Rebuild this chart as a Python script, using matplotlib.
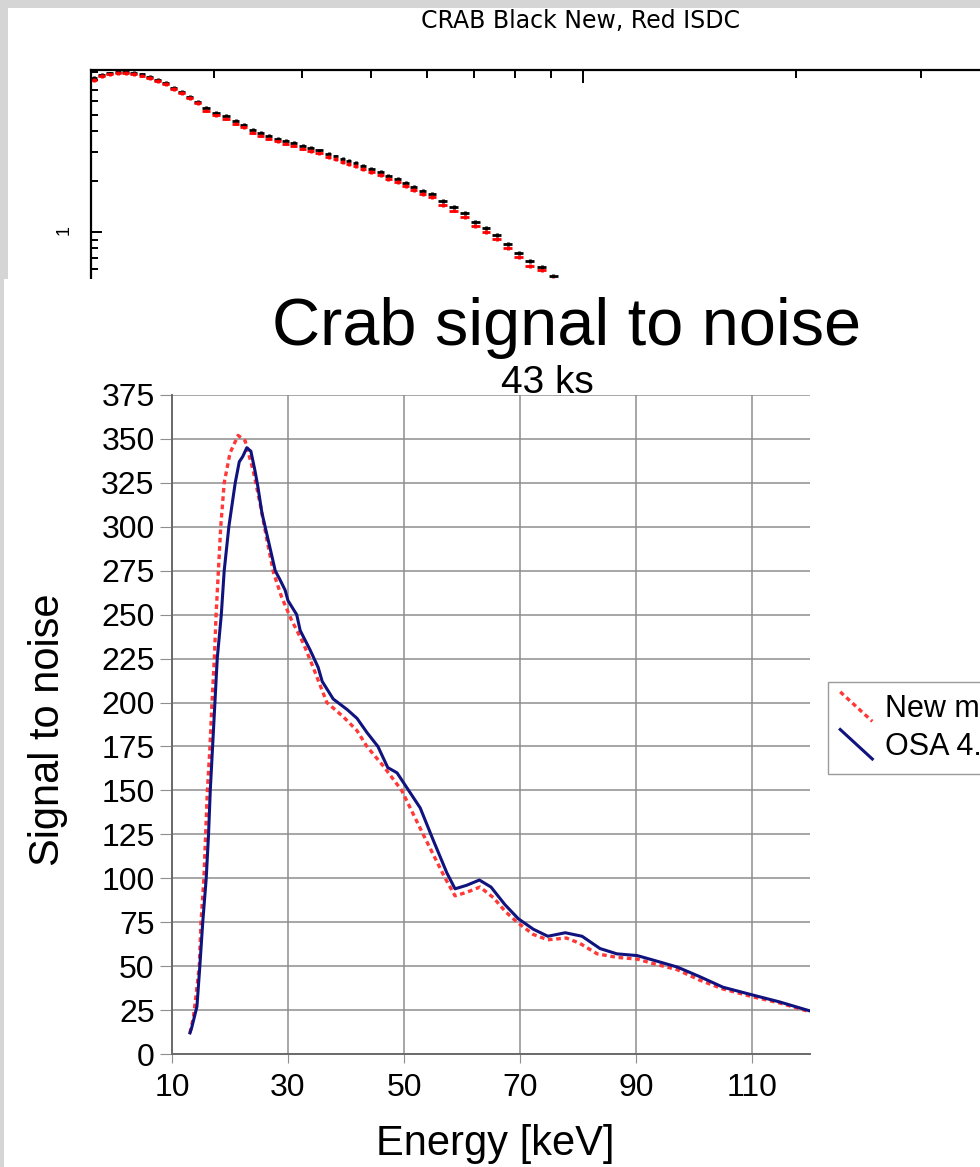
import numpy as np
import matplotlib
matplotlib.use("Agg")
import matplotlib.pyplot as plt
from matplotlib.patches import Rectangle
from matplotlib.lines import Line2D
from matplotlib.legend_handler import HandlerBase
from matplotlib.ticker import NullFormatter

# --- spectrum panel (counts vs energy, log-log) ---
spec_energy = [2.027, 2.081, 2.136, 2.193, 2.250, 2.310, 2.371, 2.433, 2.497, 2.563,
               2.631, 2.700, 2.772, 2.844, 2.920, 3.017, 3.116, 3.220, 3.304, 3.402,
               3.492, 3.584, 3.691, 3.788, 3.889, 4.004, 4.111, 4.220, 4.359, 4.460,
               4.563, 4.653, 4.760, 4.870, 5.012, 5.162, 5.298, 5.456, 5.600, 5.748,
               5.919, 6.095, 6.318, 6.548, 6.787, 7.034, 7.268, 7.534, 7.808, 8.093,
               8.388, 8.723, 9.069]
spec_new = [8.25, 8.60, 8.78, 8.96, 8.96, 8.84, 8.66, 8.37, 8.03, 7.71,
            7.20, 6.81, 6.36, 5.94, 5.47, 5.11, 4.90, 4.58, 4.34, 4.05,
            3.88, 3.73, 3.58, 3.48, 3.39, 3.27, 3.16, 3.06, 2.91, 2.82,
            2.72, 2.65, 2.58, 2.47, 2.37, 2.28, 2.15, 2.07, 1.96, 1.85,
            1.75, 1.68, 1.53, 1.41, 1.30, 1.15, 1.06, 0.96, 0.85, 0.75,
            0.67, 0.62, 0.55]
spec_isdc = [8.03, 8.48, 8.66, 8.84, 8.84, 8.72, 8.54, 8.25, 7.92, 7.60,
             7.10, 6.72, 6.27, 5.86, 5.28, 4.94, 4.73, 4.42, 4.19, 3.91,
             3.75, 3.60, 3.46, 3.36, 3.27, 3.14, 3.03, 2.94, 2.79, 2.71,
             2.61, 2.54, 2.48, 2.37, 2.28, 2.19, 2.06, 1.99, 1.88, 1.78,
             1.68, 1.61, 1.45, 1.34, 1.23, 1.09, 1.00, 0.91, 0.80, 0.71,
             0.63, 0.59, 0.52]

# --- signal to noise panel ---
new_energy = [13.1, 13.7, 14.2, 14.7, 15.0, 15.5, 15.8, 16.1, 16.5, 16.9,
              17.3, 17.6, 18.0, 18.4, 19.0, 20.0, 21.4, 22.6, 24.0, 25.2,
              26.4, 27.5, 28.9, 30.6, 32.6, 34.1, 36.7, 39.5, 41.9, 43.6,
              46.4, 49.6, 53.3, 57.1, 58.8, 60.8, 63.1, 65.4, 67.5, 69.5,
              72.3, 74.8, 78.0, 80.3, 83.3, 86.7, 90.2, 92.9, 97.1, 101.0,
              105.0, 110.2, 114.8, 120.0]
new_snr = [12, 21, 35, 50, 75, 100, 125, 150, 172, 200,
           225, 250, 275, 300, 325, 342, 352, 349, 332, 313,
           292, 274, 260, 247, 234, 222, 200, 192, 184, 175,
           164, 150, 125, 100, 90, 92, 95, 89, 81, 75,
           68, 65, 66, 63, 57, 55, 54, 51.5, 48, 42,
           37, 32.5, 29, 24]

osa_energy = [13.1, 13.4, 14.3, 14.8, 15.3, 15.9, 16.3, 16.6, 17.0, 17.4,
              17.8, 18.5, 19.0, 19.8, 20.9, 21.6, 22.2, 22.9, 23.6, 24.3,
              24.8, 25.5, 26.9, 27.8, 28.6, 29.5, 30.0, 31.5, 32.1, 33.8,
              35.2, 35.9, 37.8, 40.2, 41.9, 43.6, 45.5, 47.2, 48.8, 51.0,
              52.8, 55.0, 57.4, 58.8, 60.8, 63.0, 65.0, 67.4, 69.7, 72.3,
              74.8, 77.8, 80.7, 83.8, 86.7, 90.2, 92.9, 97.1, 101.0, 105.0,
              110.2, 114.8, 120.0]
osa_snr = [12, 15, 27, 50, 75, 100, 125, 150, 175, 200,
           225, 250, 275, 300, 325, 337, 340, 345, 343, 332,
           323, 308, 288, 275, 270, 264, 258, 250, 241, 230,
           220, 212, 202, 196, 191, 183, 175, 163, 160, 149,
           140, 122, 103, 94, 96, 99, 95, 85, 77, 71,
           67, 69, 67, 60, 57, 56, 53.5, 49.5, 44, 38,
           33.5, 29.6, 24.5]

x_ticks = [10, 30, 50, 70, 90, 110]
y_ticks = list(range(0, 376, 25))
labels = ["New method", "OSA 4.2"]

W, H = 980, 1167


def box(left, top, right, bottom):
    return [left / W, 1 - bottom / H, (right - left) / W, (bottom - top) / H]


class DiagonalHandler(HandlerBase):
    # spreadsheet style legend key: a short slanted line
    def create_artists(self, legend, orig_handle, xdescent, ydescent,
                       width, height, fontsize, trans):
        line = Line2D([-xdescent, width - xdescent],
                      [height - ydescent + 0.1 * fontsize, -ydescent - 0.1 * fontsize])
        self.update_prop(line, orig_handle, legend)
        line.set_transform(trans)
        return [line]


sans = ["Liberation Sans", "DejaVu Sans"]
plt.rcParams["font.family"] = sans

fig = plt.figure(figsize=(W / 100, H / 100), dpi=100)
fig.patch.set_facecolor("#d5d5d5")

fig.add_artist(Rectangle((8 / W, 1 - 279 / H), 1, (279 - 8) / H,
                         transform=fig.transFigure, fc="white", ec="none", zorder=0))
fig.add_artist(Rectangle((4 / W, 0), 1, 1 - 279 / H,
                         transform=fig.transFigure, fc="white", ec="none", zorder=2))

# upper spectrum
ax_s = fig.add_axes(box(91, 70, 1100, 279), zorder=1)
ax_s.set_xscale("log")
ax_s.set_yscale("log")
ax_s.set_xlim(2.01, 53.8)
ax_s.set_ylim(0.525, 9.21)
ax_s.patch.set_alpha(0)

e = np.array(spec_energy)
edges = np.sqrt(e[1:] * e[:-1])
lo = e - np.concatenate([[e[0] ** 2 / edges[0]], edges])
hi = np.concatenate([edges, [e[-1] ** 2 / edges[-1]]]) - e
xerr = np.vstack([lo, hi]) * 0.8

for vals, col in [(spec_new, "black"), (spec_isdc, "red")]:
    v = np.array(vals)
    ax_s.errorbar(e, v, xerr=xerr, yerr=v * 0.025, fmt="none",
                  ecolor=col, elinewidth=2.0, capsize=0)

for side in ["right", "bottom"]:
    ax_s.spines[side].set_visible(False)
for side in ["left", "top"]:
    ax_s.spines[side].set_linewidth(1.6)
ax_s.xaxis.set_ticks_position("top")
ax_s.tick_params(axis="x", which="both", direction="in", labeltop=False,
                 labelbottom=False, width=1.4)
ax_s.tick_params(axis="x", which="major", length=9)
ax_s.tick_params(axis="x", which="minor", length=6)
ax_s.xaxis.set_major_formatter(NullFormatter())
ax_s.xaxis.set_minor_formatter(NullFormatter())
ax_s.set_yticks([1], labels=["1"])
ax_s.yaxis.set_minor_formatter(NullFormatter())
ax_s.tick_params(axis="y", which="both", direction="in", right=False,
                 width=1.4, labelsize=13, labelrotation=90, pad=13)
ax_s.tick_params(axis="y", which="major", length=8)
ax_s.tick_params(axis="y", which="minor", length=5)

fig.text(580 / W, 1 - 21 / H, "CRAB Black New, Red ISDC", ha="center",
         va="center", fontsize=17, family="Liberation Sans Narrow")

# lower signal to noise chart
ax = fig.add_axes(box(172, 395, 810, 1054), zorder=3)
ax.patch.set_alpha(0)
ax.plot(new_energy, new_snr, color="#ff3838", lw=2.4,
        linestyle=(0, (1.4, 1.1)), label=labels[0], zorder=3)
ax.plot(osa_energy, osa_snr, color="#10127e", lw=2.2,
        label=labels[1], zorder=4)
ax.set_xlim(10, 120)
ax.set_ylim(0, 375)
ax.set_xticks(x_ticks)
ax.set_yticks(y_ticks)
ax.grid(True, color="#8e8e8e", lw=1.1)
ax.set_axisbelow(True)
for side in ["top", "right"]:
    ax.spines[side].set_visible(False)
for side in ["left", "bottom"]:
    ax.spines[side].set_color("#6a6a6a")
    ax.spines[side].set_linewidth(1.4)
ax.tick_params(axis="y", direction="out", length=8.5, color="#8e8e8e",
               labelsize=23, pad=4)
ax.tick_params(axis="x", direction="out", length=6.5, color="#8e8e8e",
               labelsize=23, pad=7)

fig.text(567 / W, 1 - 345 / H, "Crab signal to noise", ha="center",
         va="baseline", fontsize=48)
fig.text(547 / W, 1 - 393 / H, "43 ks", ha="center", va="baseline", fontsize=28)
fig.text(48 / W, 1 - 730 / H, "Signal to noise", ha="center", va="center",
         rotation=90, fontsize=30)
fig.text(495 / W, 1 - 1155 / H, "Energy [keV]", ha="center", va="baseline",
         fontsize=30)

leg = ax.legend(handler_map={Line2D: DiagonalHandler()},
                loc="upper left", bbox_to_anchor=(828 / W, 1 - 682 / H),
                bbox_transform=fig.transFigure, fontsize=22, frameon=True,
                fancybox=False, edgecolor="#9a9a9a", framealpha=1,
                handlelength=1.05, handleheight=0.8, handletextpad=0.4,
                borderpad=0.4, labelspacing=0.25, borderaxespad=0)
leg.get_frame().set_linewidth(1.0)

fig.savefig("out.png", dpi=100, facecolor=fig.get_facecolor())
